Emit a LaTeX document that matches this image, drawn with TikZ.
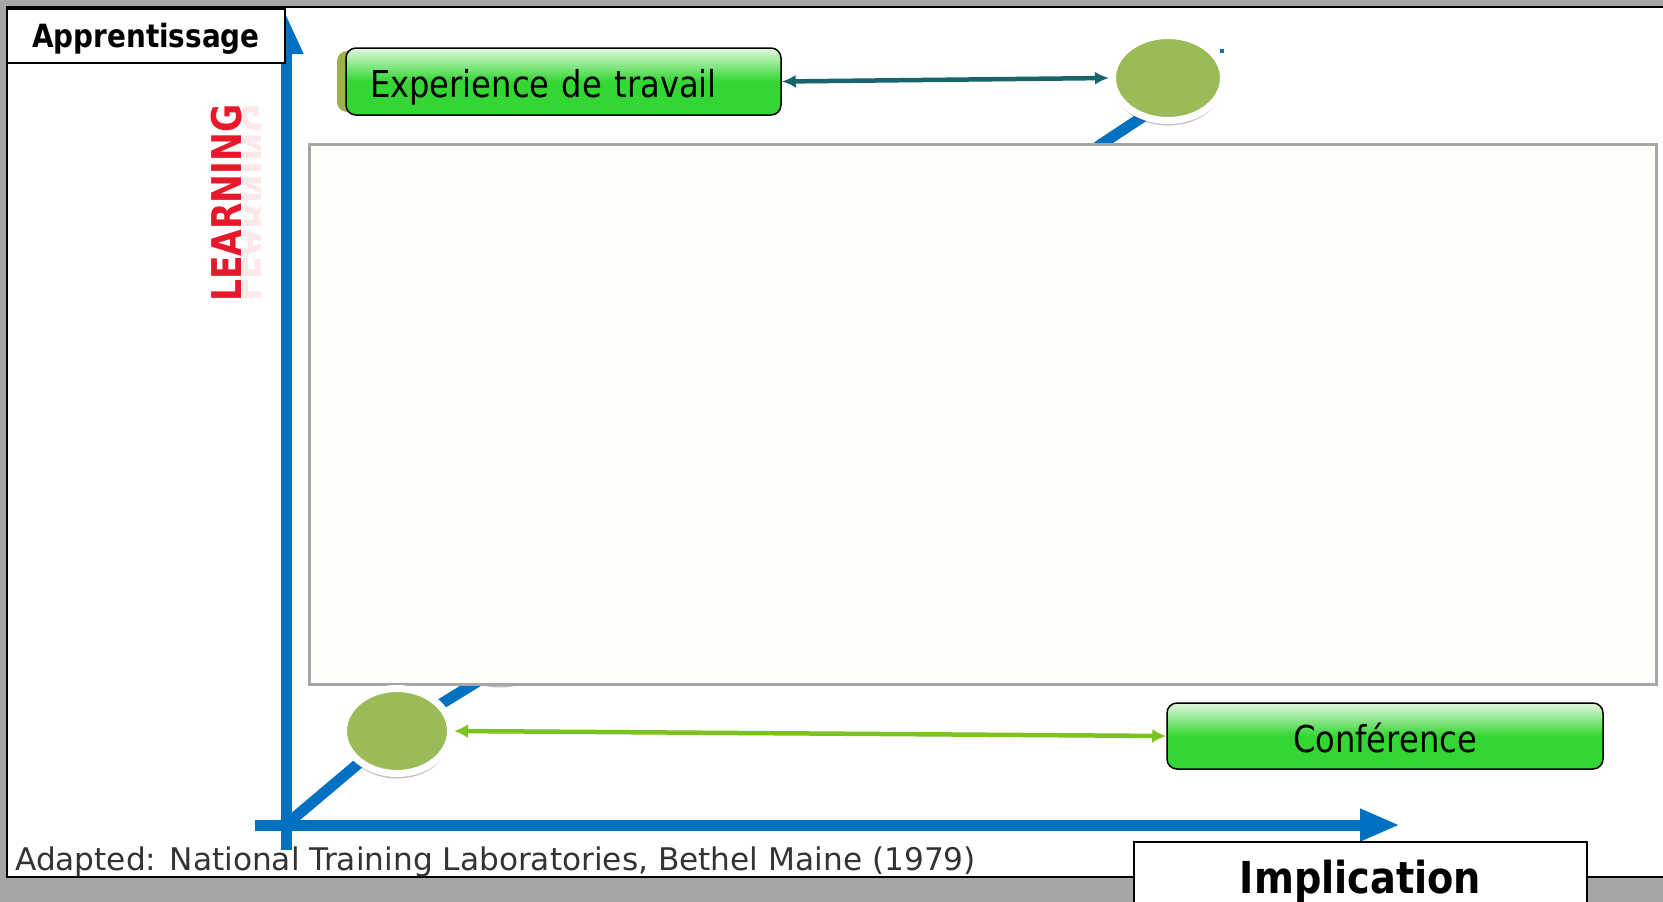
\documentclass[tikz,border=0pt]{standalone}
\usepackage{fontspec}
\setmainfont{DejaVu Sans}
\newfontfamily\tahfont[FakeStretch=0.87]{DejaVu Sans}
\newfontfamily\lrnfont[FakeStretch=0.84]{DejaVu Sans}
\usetikzlibrary{arrows.meta,shapes.geometric,shadows}
\definecolor{bggray}{HTML}{A6A6A6}
\definecolor{axisblue}{HTML}{0070C0}
\definecolor{olivegreen}{HTML}{9BBB59}
\definecolor{boxgreen}{HTML}{33D633}
\definecolor{boxtop}{HTML}{E2F8DE}
\definecolor{tealarrow}{HTML}{17656B}
\definecolor{limearrow}{HTML}{7DC31F}
\definecolor{lrnred}{HTML}{E8182B}
\definecolor{rectfill}{HTML}{FEFEFA}
\definecolor{rectborder}{HTML}{A6A6A6}
\definecolor{shadowolive}{HTML}{9BB24A}
\begin{document}
\begin{tikzpicture}[x=1pt,y=-1pt,
  greenbox/.style={draw=black, line width=1.5pt, rounded corners=10pt,
    top color=boxtop, bottom color=boxgreen, middle color=boxgreen,
    font=\tahfont\fontsize{37}{40}\selectfont, text height=31pt, text depth=0pt, inner sep=0pt},
  greencirc/.style={ellipse, fill=olivegreen, draw=white, line width=7pt, inner sep=0pt,
    drop shadow={shadow xshift=0pt, shadow yshift=-5pt, opacity=0.35, fill=black!70}},
  labelbox/.style={draw=black, line width=2pt, fill=white, inner sep=0pt},
  axisline/.style={axisblue, line width=11pt},
  lrnstyle/.style={rotate=90, inner sep=0pt, font=\lrnfont\bfseries\fontsize{41}{44}\selectfont},
]
\useasboundingbox (0,0) rectangle (1663,902);
\clip (0,0) rectangle (1663,902);
\fill[bggray] (0,0) rectangle (1663,902);
\draw[line width=2.5pt, fill=white] (7,7) rectangle (1690,877);

% axes
\draw[axisline, -{Triangle[length=40pt,width=30pt]}] (255,825) -- (1400,825);
\draw[axisline, -{Triangle[length=40pt,width=32pt]}] (286,850) -- (286,14);

% diagonal path through the circles
\coordinate (orig) at (288,823);
\coordinate (ucpos) at (1168,78);
\coordinate (lcpos) at (397,731);
\draw[axisline, line join=round] (orig) -- (lcpos) -- (480,680) -- (1100,145) -- (1150,112);
\fill[axisblue] (1220,49) rectangle (1224,53);

% hidden circle behind the panel
\node[greencirc, minimum width=111pt, minimum height=85pt] (hid) at (500,640) {};

% panel
\node[draw=rectborder, line width=3pt, fill=rectfill, minimum width=1347pt,
      minimum height=540pt, inner sep=0pt] (panel) at (982.5,414) {};

% circles
\node[greencirc, minimum width=111pt, minimum height=85pt] (uc) at (ucpos) {};
\node[greencirc, minimum width=107pt, minimum height=85pt] (lc) at (lcpos) {};

% boxes
\fill[shadowolive, rounded corners=10pt] (337,51) rectangle (700,112);
\node[greenbox, minimum width=435pt, minimum height=67pt, text width=387pt,
      align=left, inner xsep=24pt] (exp) at (563.5,81.5) {Experience de travail};
\node[greenbox, minimum width=436pt, minimum height=66pt, text height=32pt]
      (conf) at (1385,736) {Conférence};

% connectors
\draw[tealarrow, line width=4.5pt, {Latex[length=14pt,width=13pt]}-{Latex[length=14pt,width=13pt]}]
      (exp.east) -- (uc.west);
\draw[limearrow, line width=4.5pt, {Latex[length=14pt,width=14pt]}-{Latex[length=14pt,width=14pt]}]
      (lc.east) -- (conf.west);

% LEARNING with faint reflection
\begin{scope}
  \clip (242,95) rectangle (260,310);
  \begin{scope}[xshift=484pt, xscale=-1]
    \node[lrnstyle, transform shape, text=lrnred, opacity=0.1] (learnrefl) at (227,203) {LEARNING};
  \end{scope}
\end{scope}
\node[lrnstyle, text=lrnred] (learn) at (227,203) {LEARNING};

% labels
\node[labelbox, minimum width=278pt, minimum height=54pt, text height=23pt, text depth=0pt,
      font=\tahfont\bfseries\fontsize{32}{36}\selectfont] (appr) at (146,36) {Apprentissage};
\node[labelbox, minimum width=453pt, text height=33pt, text depth=10pt, inner ysep=18pt,
      anchor=base, font=\tahfont\bfseries\fontsize{44}{48}\selectfont] (impl) at (1360.5,893) {Implication};
\node[anchor=base west, inner sep=0pt, text=black!80, font=\fontsize{31.2}{34}\selectfont]
      (src) at (15,870) {Adapted: National Training Laboratories, Bethel Maine (1979)};
\end{tikzpicture}
\end{document}
